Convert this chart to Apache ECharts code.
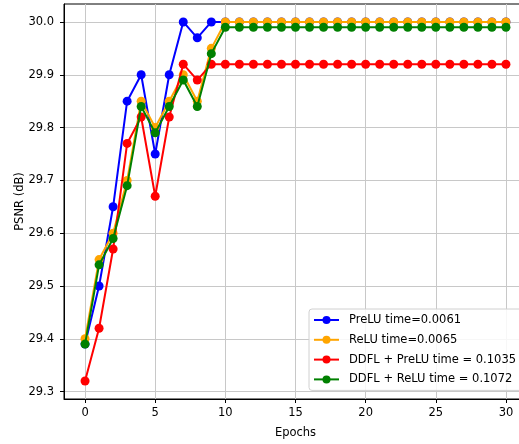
<!DOCTYPE html>
<html>
<head>
<meta charset="utf-8">
<script src="https://cdn.jsdelivr.net/npm/echarts@6/dist/echarts.min.js"></script>
<style>
  html, body { margin: 0; padding: 0; background: #fff; overflow: hidden; }
  #chart { width: 527px; height: 444px; }
</style>
</head>
<body>
<div id="chart"></div>
<script>
var epochs = [];
for (var i = 0; i <= 30; i++) epochs.push(i);

var names = ['PreLU time=0.0061', 'ReLU time=0.0065', 'DDFL + PreLU time = 0.1035', 'DDFL + ReLU time = 0.1072'];
var colors = ['#0000ff', '#ffa500', '#ff0000', '#008000'];

var prelu = [29.39, 29.50, 29.65, 29.85, 29.90, 29.75, 29.90, 30.00, 29.97, 30.00,
    30.00, 30.00, 30.00, 30.00, 30.00, 30.00, 30.00, 30.00, 30.00, 30.00,
    30.00, 30.00, 30.00, 30.00, 30.00, 30.00, 30.00, 30.00, 30.00, 30.00, 30.00];
var relu = [29.40, 29.55, 29.60, 29.70, 29.85, 29.80, 29.85, 29.90, 29.85, 29.95,
    30.00, 30.00, 30.00, 30.00, 30.00, 30.00, 30.00, 30.00, 30.00, 30.00,
    30.00, 30.00, 30.00, 30.00, 30.00, 30.00, 30.00, 30.00, 30.00, 30.00, 30.00];
var ddflPrelu = [29.32, 29.42, 29.57, 29.77, 29.82, 29.67, 29.82, 29.92, 29.89, 29.92,
    29.92, 29.92, 29.92, 29.92, 29.92, 29.92, 29.92, 29.92, 29.92, 29.92,
    29.92, 29.92, 29.92, 29.92, 29.92, 29.92, 29.92, 29.92, 29.92, 29.92, 29.92];
var ddflRelu = [29.39, 29.54, 29.59, 29.69, 29.84, 29.79, 29.84, 29.89, 29.84, 29.94,
    29.99, 29.99, 29.99, 29.99, 29.99, 29.99, 29.99, 29.99, 29.99, 29.99,
    29.99, 29.99, 29.99, 29.99, 29.99, 29.99, 29.99, 29.99, 29.99, 29.99, 29.99];

var values = [prelu, relu, ddflPrelu, ddflRelu];
var font = 'DejaVu Sans';

function pairs(ys) {
    return epochs.map(function (x, k) { return [x, ys[k]]; });
}

var myChart = echarts.init(document.getElementById('chart'));
var option = {
    animation: false,
    textStyle: { fontFamily: font },
    grid: {
        left: 64, right: 0, top: 4, bottom: 45,
        outerBoundsMode: 'none',
        containLabel: false,
        show: true, borderColor: '#000', borderWidth: 1
    },
    legend: {
        orient: 'vertical',
        left: 309, top: 309,
        padding: [5, 40, 5, 4],
        itemWidth: 25, itemHeight: 10, itemGap: 7.8,
        backgroundColor: 'rgba(255,255,255,0.85)',
        borderColor: '#d0d0d0', borderWidth: 1, borderRadius: 3,
        textStyle: { fontFamily: font, fontSize: 11.5, color: '#000', padding: [0, 0, 0, 5] },
        data: names
    },
    xAxis: {
        type: 'value',
        min: function (v) { return v.min - 0.05 * (v.max - v.min); },
        max: function (v) { return v.max + 0.05 * (v.max - v.min); },
        splitNumber: 7,
        name: 'Epochs', nameLocation: 'middle', nameGap: 28,
        nameTextStyle: { fontFamily: font, fontSize: 11.5, color: '#000' },
        axisLine: { onZero: false, lineStyle: { color: '#000' } },
        axisTick: { length: 4, lineStyle: { color: '#000' } },
        axisLabel: {
            fontFamily: font, fontSize: 11.5, color: '#000', margin: 8,
            showMinLabel: false, showMaxLabel: false,
            formatter: function (v) { return v % 5 === 0 ? String(v) : ''; }
        },
        splitLine: { show: true, showMinLine: false, showMaxLine: false, lineStyle: { color: '#c8c8c8', width: 1 } }
    },
    yAxis: {
        type: 'value',
        min: function (v) { return v.min - 0.05 * (v.max - v.min); },
        max: function (v) { return v.max + 0.05 * (v.max - v.min); },
        splitNumber: 7,
        name: 'PSNR (dB)', nameLocation: 'middle', nameGap: 38,
        nameMoveOverlap: false,
        nameTextStyle: { fontFamily: font, fontSize: 11.5, color: '#000' },
        axisLine: { show: true, onZero: false, lineStyle: { color: '#000' } },
        axisTick: { show: true, length: 4, lineStyle: { color: '#000' } },
        axisLabel: {
            fontFamily: font, fontSize: 11.5, color: '#000', margin: 10,
            showMinLabel: false, showMaxLabel: false,
            formatter: function (v) { return v.toFixed(1); }
        },
        splitLine: { show: true, showMinLine: false, showMaxLine: false, lineStyle: { color: '#c8c8c8', width: 1 } }
    },
    series: values.map(function (ys, k) {
        return {
            name: names[k],
            type: 'line',
            data: pairs(ys),
            symbol: 'circle',
            symbolSize: 9,
            color: colors[k],
            lineStyle: { width: 2, color: colors[k] },
            itemStyle: { color: colors[k] },
            z: 2 + k
        };
    })
};
myChart.setOption(option);
</script>
</body>
</html>
